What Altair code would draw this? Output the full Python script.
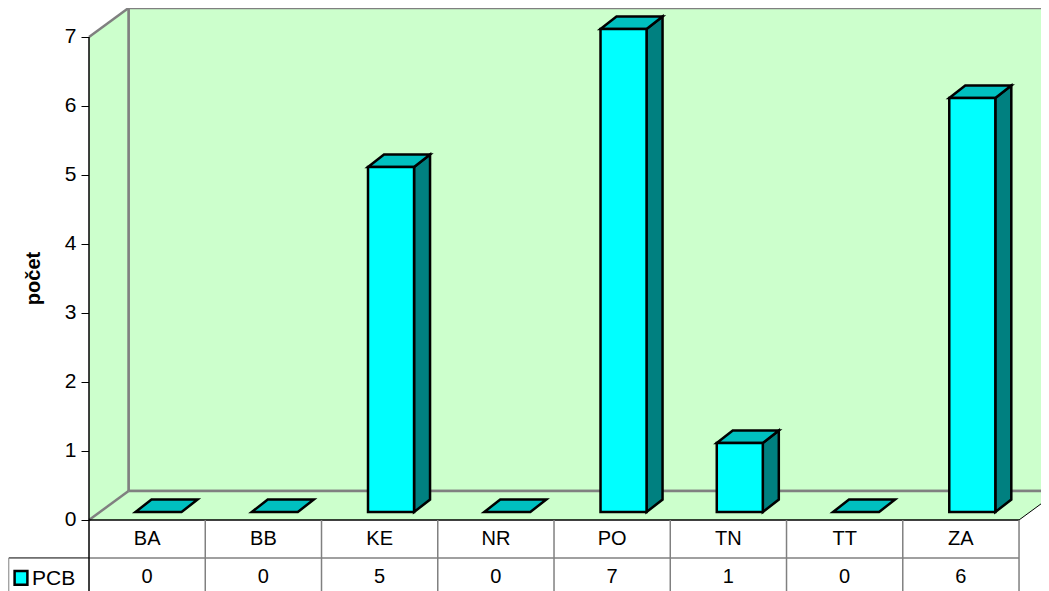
import altair as alt
import pandas as pd

categories = ["BA", "BB", "KE", "NR", "PO", "TN", "TT", "ZA"]
values = [0, 0, 5, 0, 7, 1, 0, 6]
series_name = "PCB"
y_ticks = [0, 1, 2, 3, 4, 5, 6, 7]
y_title = "počet"

FONT = "Liberation Sans"
WALL, GRAY, CYAN, TEAL, TOPC = "#CCFFCC", "#808080", "#00FFFF", "#008080", "#00C0C0"

# projection of the pseudo-3D box, in data units
X0, X1 = -0.6968, 8.189
Y0, Y1 = -1.029, 7.42
WDX, WDY = 0.34, 0.42          # depth of the walls
ROW1, ROW2 = -0.55, -1.029     # table rows
LEG = -0.69                    # left edge of the legend cell
BX, BW = 0.40, 0.396           # bar inset and width in a category
BDY = 0.116                    # bar base above the front edge
DX, DY = 0.1376, 0.18          # bar depth
n = len(categories)

xs = alt.Scale(domain=[X0, X1], nice=False, zero=False)
ys = alt.Scale(domain=[Y0, Y1], nice=False, zero=False)
y_axis = alt.Axis(
    values=y_ticks, format="d", offset=-81, domain=False, grid=False, tickColor="black", tickSize=8,
    labelFont=FONT, labelFontSize=21, labelColor="black", labelPadding=5,
    title=y_title, titleFont=FONT, titleFontSize=20, titleFontWeight="bold", titleColor="black",
    titleX=-46, titleY=270)
X = alt.X("x:Q", scale=xs, axis=None, stack=None)
Y = alt.Y("y:Q", scale=ys, axis=y_axis, stack=None)

# back wall
back = alt.Chart(pd.DataFrame([{"x": WDX, "x2": X1 + 0.2, "y": WDY, "y2": 7 + WDY}])).mark_rect(
    fill=WALL, stroke=GRAY, strokeWidth=2.5
).encode(x=X, x2="x2:Q", y=Y, y2="y2:Q")

# side wall
side = alt.Chart(pd.DataFrame([{"x": 0, "y": 0, "y2": 7}, {"x": WDX, "y": WDY, "y2": 7 + WDY}])).mark_area(
    fill=WALL).encode(x=X, y=Y, y2="y2:Q")

# floor
floor = alt.Chart(pd.DataFrame([{"y": 0, "x": 0, "x2": n}, {"y": WDY, "x": WDX, "x2": n + WDX}])).mark_area(
    fill=WALL, orient="horizontal").encode(y=Y, x=X, x2="x2:Q")

# frame lines and table
segs = [
    (0, 7, WDX, 7 + WDY, GRAY, 2.5), (0, 0, WDX, WDY, GRAY, 2.5), (WDX, WDY, WDX, 7 + WDY, GRAY, 2.5),
    (WDX, WDY, X1 + 0.2, WDY, GRAY, 2.5),
    (n, 0, n + WDX, WDY, "black", 1),
    (0, 0, n, 0, "black", 1.5),
    (LEG, ROW1, 0, ROW1, "black", 1), (0, ROW1, n, ROW1, GRAY, 1.5),
    (LEG, ROW1, LEG, ROW2, GRAY, 1),
]
segs += [(i, 0, i, ROW2, GRAY, 1.5) for i in range(1, n + 1)]
segs += [(0, 7, 0, ROW2, "black", 1.5)]
lines = alt.Chart(pd.DataFrame(segs, columns=["x", "y", "x2", "y2", "c", "w"])).mark_rule().encode(
    x=X, y=Y, x2="x2:Q", y2="y2:Q",
    color=alt.Color("c:N", scale=None, legend=None),
    strokeWidth=alt.StrokeWidth("w:Q", scale=None, legend=None))

# bars
front_rows, side_rows, top_rows = [], [], []
for i, v in enumerate(values):
    l, r, b, t = i + BX, i + BX + BW, BDY, BDY + v
    if v > 0:
        front_rows.append({"x": l, "x2": r, "y": b, "y2": t})
        side_rows += [{"k": i, "x": r, "y": b, "y2": t}, {"k": i, "x": r + DX, "y": b + DY, "y2": t + DY}]
    top_rows += [{"k": i, "y": t, "x": l, "x2": r}, {"k": i, "y": t + DY, "x": l + DX, "x2": r + DX}]

stroke = dict(stroke="black", strokeWidth=2.5, strokeJoin="miter")
bar_side = alt.Chart(pd.DataFrame(side_rows)).mark_area(fill=TEAL, **stroke).encode(
    x=X, y=Y, y2="y2:Q", detail="k:N")
bar_top = alt.Chart(pd.DataFrame(top_rows)).mark_area(fill=TOPC, orient="horizontal", **stroke).encode(
    y=Y, x=X, x2="x2:Q", detail="k:N")
bar_front = alt.Chart(pd.DataFrame(front_rows)).mark_rect(fill=CYAN, **stroke).encode(
    x=X, x2="x2:Q", y=Y, y2="y2:Q")

# table text
head = pd.DataFrame({"x": [i + 0.5 for i in range(n)], "y": (ROW1 / 2), "t": categories})
vals = pd.DataFrame({"x": [i + 0.5 for i in range(n)], "y": -0.82, "t": [str(v) for v in values]})
txt = dict(font=FONT, fontSize=20, color="black", baseline="middle", align="center")
t_head = alt.Chart(head).mark_text(**txt).encode(x=X, y=Y, text="t:N")
t_vals = alt.Chart(vals).mark_text(**txt).encode(x=X, y=Y, text="t:N")

# legend cell
leg_sw = alt.Chart(pd.DataFrame({"x": [-0.64], "x2": [-0.53], "y": [-0.74], "y2": [-0.94]})).mark_rect(
    fill=CYAN, **stroke).encode(x=X, x2="x2:Q", y=Y, y2="y2:Q")
leg_tx = alt.Chart(pd.DataFrame({"x": [-0.49], "y": [-0.85], "t": [series_name]})).mark_text(
    font=FONT, fontSize=21, color="black", baseline="middle", align="left").encode(x=X, y=Y, text="t:N")

chart = alt.layer(
    back, side, floor, lines, bar_side, bar_top, bar_front, t_head, t_vals, leg_sw, leg_tx
).properties(width=1033, height=583, padding=0, autosize=alt.AutoSizeParams(type="none"), background="white"
).configure_view(stroke=None)

chart.save("out.html", embed_options={"renderer": "svg", "actions": False})
